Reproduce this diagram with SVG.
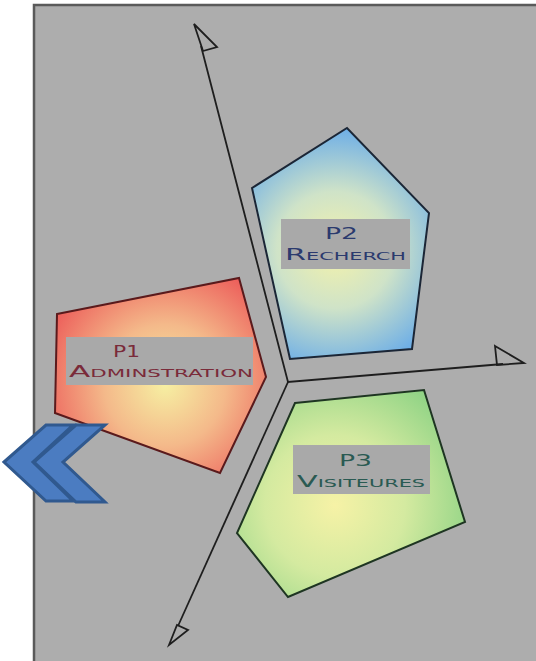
<svg xmlns="http://www.w3.org/2000/svg" width="536" height="661" viewBox="0 0 536 661">
<style>
.axis{fill:none;stroke:#1e1e1e;stroke-width:1.8;stroke-linejoin:miter}
.head{fill:none;stroke:#1e1e1e;stroke-width:1.8;stroke-linejoin:miter}
.poly{stroke-width:2;stroke-linejoin:miter}
.lbl{fill:#a9a9a9}
.t{font-family:"DejaVu Sans","Liberation Sans",sans-serif;font-variant:small-caps;font-size:16px}
.chev{fill:#4b7cc1;stroke:#30598f;stroke-width:3;stroke-linejoin:miter}
</style>
<defs>
<radialGradient id="gRed" gradientUnits="userSpaceOnUse" cx="165" cy="385" r="135">
<stop offset="0" stop-color="#f6efa2"/>
<stop offset="0.45" stop-color="#f4b98a"/>
<stop offset="1" stop-color="#ec5656"/>
</radialGradient>
<radialGradient id="gBlue" gradientUnits="userSpaceOnUse" cx="335" cy="250" r="130">
<stop offset="0" stop-color="#f4f2aa"/>
<stop offset="0.45" stop-color="#cfe3c8"/>
<stop offset="1" stop-color="#62a8ea"/>
</radialGradient>
<radialGradient id="gGreen" gradientUnits="userSpaceOnUse" cx="335" cy="505" r="140">
<stop offset="0" stop-color="#f6f2a6"/>
<stop offset="0.5" stop-color="#d4eaa0"/>
<stop offset="1" stop-color="#92d486"/>
</radialGradient>
</defs>
<rect x="0" y="0" width="536" height="661" fill="#ffffff"/>
<rect x="34" y="5" width="520" height="670" fill="#adadad" stroke="#5a5a5a" stroke-width="2.5"/>

<g id="node-p1">
<polygon class="poly" points="57,314 239,278 266,377 220,473 55,413" fill="url(#gRed)" stroke="#5a1a1c"/>
<rect class="lbl" x="66" y="337" width="187" height="48"/>
<text class="t" x="113" y="357" fill="#7a2b3a" textLength="27" lengthAdjust="spacingAndGlyphs">P1</text>
<text class="t" x="69" y="377" fill="#7a2b3a" textLength="184" lengthAdjust="spacingAndGlyphs">Adminstration</text>
</g>

<g id="node-p2">
<polygon class="poly" points="252,188 347,128 429,213 412,349 290,359" fill="url(#gBlue)" stroke="#1b2636"/>
<rect class="lbl" x="281" y="219" width="129" height="50"/>
<text class="t" x="325" y="239" fill="#2b3a6e" textLength="33" lengthAdjust="spacingAndGlyphs">P2</text>
<text class="t" x="285" y="260" fill="#2b3a6e" textLength="121" lengthAdjust="spacingAndGlyphs">Recherch</text>
</g>

<g id="node-p3">
<polygon class="poly" points="295,403 424,390 465,522 288,597 237,533" fill="url(#gGreen)" stroke="#1e3522"/>
<rect class="lbl" x="293" y="445" width="137" height="49"/>
<text class="t" x="339" y="466" fill="#2a5a52" textLength="33" lengthAdjust="spacingAndGlyphs">P3</text>
<text class="t" x="297" y="487" fill="#2a5a52" textLength="128" lengthAdjust="spacingAndGlyphs">Visiteures</text>
</g>

<g id="connectors">
<polyline class="axis" points="201,46 288,382 503,364"/>
<line class="axis" x1="288" y1="382" x2="178" y2="626"/>
<polygon class="head" points="194,24 217,47 203,51"/>
<polygon class="head" points="495,346 524,363 497,365"/>
<polygon class="head" points="169,645 177,625 188,630"/>
</g>

<g id="node-chevrons">
<polygon class="chev" points="4,462 46,425 73,425 33,462 73,501 46,501"/>
<polygon class="chev" points="34,462 76,425 105,425 63,462 105,502 76,502"/>
</g>
</svg>
